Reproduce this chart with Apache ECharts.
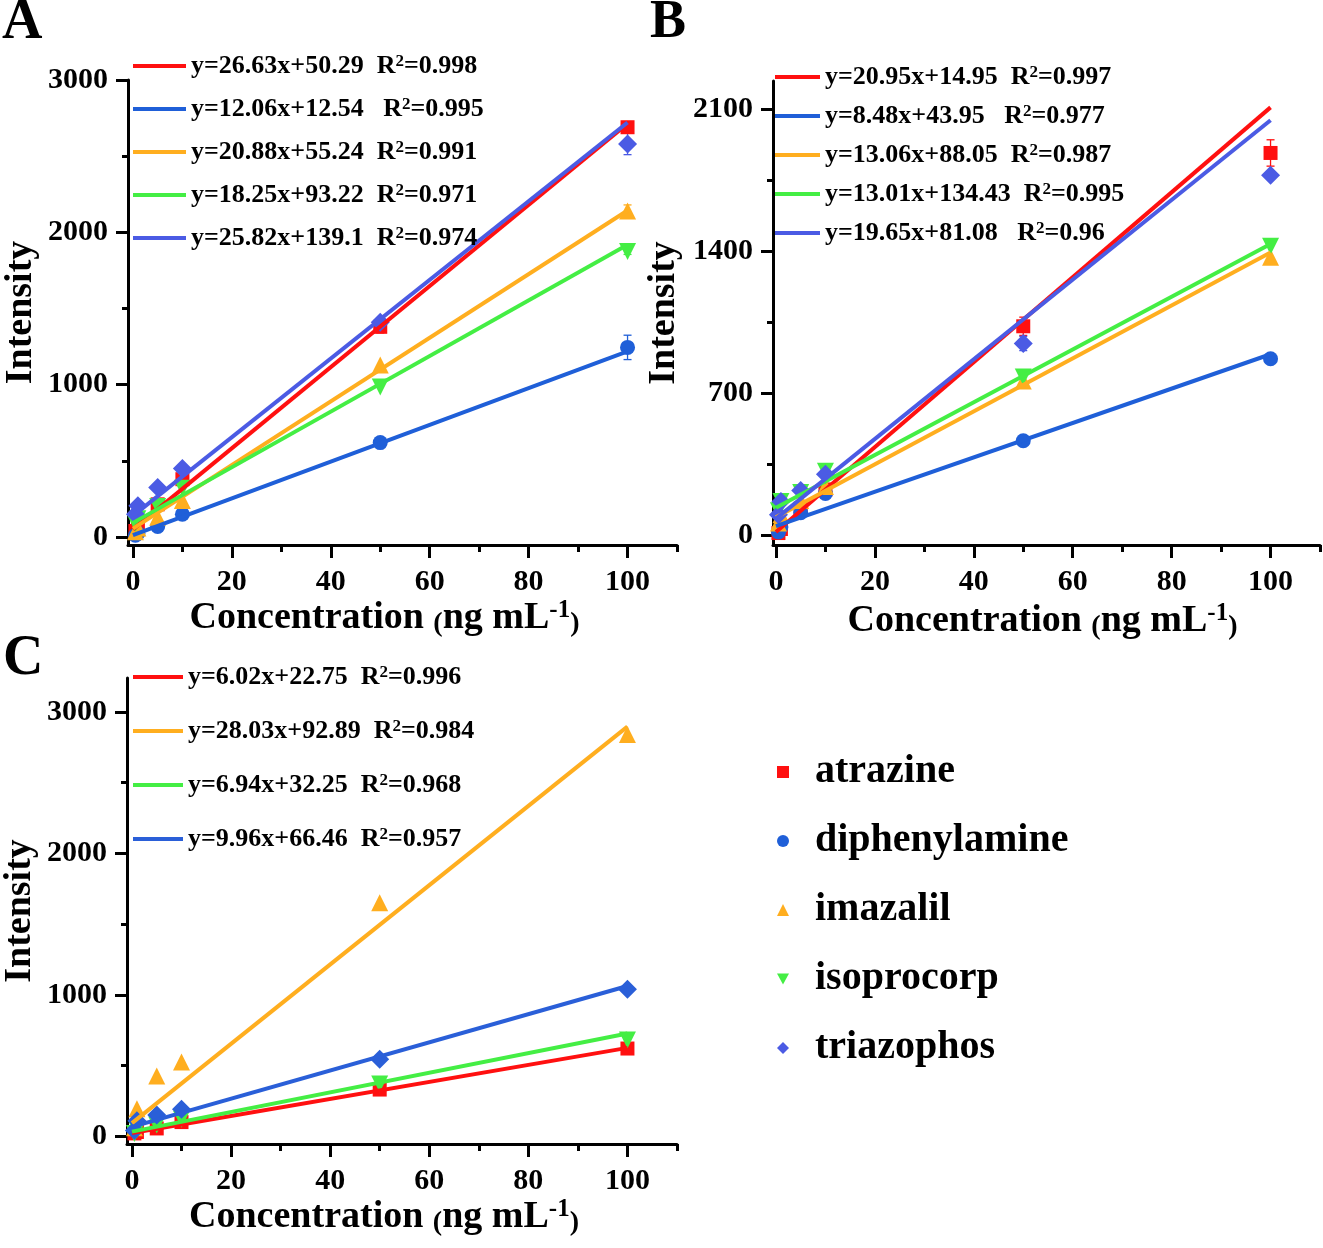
<!DOCTYPE html>
<html>
<head>
<meta charset="utf-8">
<title>Calibration curves</title>
<script src="https://cdn.jsdelivr.net/npm/echarts@6/dist/echarts.min.js"></script>
<style>
  html, body { margin: 0; padding: 0; background: #fff; }
  #chart { width: 1323px; height: 1248px; }
</style>
</head>
<body>
<div id="chart"></div>
<script type="text/javascript">
// concentrations (ng/mL) shared by all panels
var conc = [0.5, 1, 5, 10, 50, 100];

var names = ['atrazine', 'diphenylamine', 'imazalil', 'isoprocorp', 'triazophos'];

// panel A measured intensities
var aAtrazine      = [40, 75, 215, 380, 1380, 2690];
var aDiphenylamine = [12, 25, 70, 150, 620, 1245];
var aImazalil      = [35, 60, 130, 240, 1130, 2140];
var aIsoprocorp    = [90, 120, 200, 320, 985, 1875];
var aTriazophos    = [150, 205, 325, 450, 1410, 2580];
// panel A error bars (0 = none visible)
var aAtrazineErr      = [0, 0, 0, 0, 40, 25];
var aDiphenylamineErr = [0, 0, 0, 30, 0, 80];
var aImazalilErr      = [0, 0, 0, 0, 0, 40];
var aIsoprocorpErr    = [0, 0, 0, 0, 0, 20];
var aTriazophosErr    = [0, 0, 0, 0, 0, 70];
// panel A fits
var aSlope     = [26.63, 12.06, 20.88, 18.25, 25.82];
var aIntercept = [50.29, 12.54, 55.24, 93.22, 139.1];
var aFitText   = ['y=26.63x+50.29  R²=0.998', 'y=12.06x+12.54   R²=0.995', 'y=20.88x+55.24  R²=0.991',
                  'y=18.25x+93.22  R²=0.971', 'y=25.82x+139.1  R²=0.974'];

// panel B measured intensities
var bAtrazine      = [10, 30, 130, 225, 1030, 1885];
var bDiphenylamine = [15, 40, 110, 205, 465, 870];
var bImazalil      = [60, 100, 170, 240, 760, 1370];
var bIsoprocorp    = [120, 165, 210, 315, 780, 1425];
var bTriazophos    = [100, 165, 220, 300, 945, 1775];
var bAtrazineErr   = [0, 0, 0, 0, 45, 65];
var bTriazophosErr = [0, 0, 0, 0, 35, 0];
// panel B fits
var bSlope     = [20.95, 8.48, 13.06, 13.01, 19.65];
var bIntercept = [14.95, 43.95, 88.05, 134.43, 81.08];
var bFitText   = ['y=20.95x+14.95  R²=0.997', 'y=8.48x+43.95   R²=0.977', 'y=13.06x+88.05  R²=0.987',
                  'y=13.01x+134.43  R²=0.995', 'y=19.65x+81.08   R²=0.96'];

// panel C measured intensities (no diphenylamine)
var cAtrazine   = [20, 30, 55, 100, 330, 620];
var cImazalil   = [60, 195, 425, 525, 1650, 2840];
var cIsoprocorp = [20, 45, 80, 120, 370, 680];
var cTriazophos = [40, 110, 150, 190, 545, 1040];
// panel C fits: atrazine, imazalil, isoprocorp, triazophos
var cSlope     = [6.02, 28.03, 6.94, 9.96];
var cIntercept = [22.75, 92.89, 32.25, 66.46];
var cFitText   = ['y=6.02x+22.75  R²=0.996', 'y=28.03x+92.89  R²=0.984',
                  'y=6.94x+32.25  R²=0.968', 'y=9.96x+66.46  R²=0.957'];

var colors = {
  atrazine: '#ff1010',
  diphenylamine: '#1f5fd8',
  imazalil: '#ffae1f',
  isoprocorp: '#44ee44',
  triazophos: '#4b5be4'
};
var cTriColor = '#2a5fd8';
var symbols = {
  atrazine: 'rect',
  diphenylamine: 'circle',
  imazalil: 'triangle',
  isoprocorp: 'path://M0,0 L10,0 L5,9 Z',
  triazophos: 'diamond'
};
var sizes = { atrazine: 14, diphenylamine: 15, imazalil: 17, isoprocorp: 17, triazophos: 19 };

var font = 'Liberation Serif';

(function() {
  var chart = echarts.init(document.getElementById('chart'));

  var grids = [
    { left: 128, top: 80, width: 549, height: 465, outerBoundsMode: 'none' },
    { left: 773, top: 81, width: 547, height: 464, outerBoundsMode: 'none' },
    { left: 127, top: 678, width: 550, height: 466, outerBoundsMode: 'none' }
  ];

  var xName = '{a|Concentration }{p|(}{a|ng mL}{s|-1}{p|)}';
  var nameRich = {
    a: { fontFamily: font, fontWeight: 'bold', fontSize: 38, color: '#000', lineHeight: 40 },
    p: { fontFamily: font, fontWeight: 'bold', fontSize: 28, color: '#000', lineHeight: 40, verticalAlign: 'bottom' },
    s: { fontFamily: font, fontWeight: 'bold', fontSize: 25, color: '#000', lineHeight: 24, verticalAlign: 'top' }
  };

  var lineStyleAxis = { color: '#000', width: 3 };

  function plain(v) {
    return String(v);
  }

  function xAxes(grid, min, nameGap, padRight) {
    return [{
      type: 'value', gridIndex: grid, min: min, max: 110,
      name: xName, nameLocation: 'middle', nameGap: nameGap,
      nameTextStyle: { rich: nameRich, padding: [0, padRight, 0, 0] },
      axisLine: { show: true, onZero: false, lineStyle: lineStyleAxis },
      axisTick: { show: true, length: 13, lineStyle: { width: 3, color: '#000' }, customValues: [0, 20, 40, 60, 80, 100] },
      axisLabel: { show: true, margin: 22, fontFamily: font, fontWeight: 'bold', fontSize: 30, color: '#000',
                   customValues: [0, 20, 40, 60, 80, 100], formatter: plain },
      splitLine: { show: false }
    }, {
      type: 'value', gridIndex: grid, min: min, max: 110, position: 'bottom',
      axisLine: { show: false, onZero: false },
      axisTick: { show: true, length: 7, lineStyle: { width: 3, color: '#000' }, customValues: [10, 30, 50, 70, 90, 110] },
      axisLabel: { show: false },
      splitLine: { show: false }
    }];
  }

  function yAxes(grid, min, max, major, minor, nameGap) {
    return [{
      type: 'value', gridIndex: grid, min: min, max: max, position: 'left',
      name: 'Intensity', nameLocation: 'middle', nameGap: nameGap,
      nameTextStyle: { fontFamily: font, fontWeight: 'bold', fontSize: 38, color: '#000' },
      axisLine: { show: true, onZero: false, lineStyle: lineStyleAxis },
      axisTick: { show: true, length: 12, lineStyle: { width: 3, color: '#000' }, customValues: major },
      axisLabel: { show: true, margin: 20, fontFamily: font, fontWeight: 'bold', fontSize: 30, color: '#000',
                   customValues: major, formatter: plain },
      splitLine: { show: false }
    }, {
      type: 'value', gridIndex: grid, min: min, max: max, position: 'left', offset: 0,
      axisLine: { show: false, onZero: false },
      axisTick: { show: true, length: 6, lineStyle: { width: 3, color: '#000' }, customValues: minor },
      axisLabel: { show: false },
      splitLine: { show: false }
    }];
  }

  var xAxis = [].concat(xAxes(0, -1, 50, 36), xAxes(1, -0.6, 56, 8), xAxes(2, -1, 50, 36));
  var yAxis = [].concat(
    yAxes(0, -52, 3000, [0, 1000, 2000, 3000], [500, 1500, 2500], 88),
    yAxes(1, -49, 2240, [0, 700, 1400, 2100], [350, 1050, 1750], 90),
    yAxes(2, -55, 3240, [0, 1000, 2000, 3000], [500, 1500, 2500], 88)
  );

  var series = [];

  function pairs(values) {
    var out = [];
    for (var i = 0; i < conc.length; i++) {
      out.push([conc[i], values[i]]);
    }
    return out;
  }

  function addScatter(axis, name, values, color) {
    series.push({
      name: name, type: 'scatter', xAxisIndex: axis, yAxisIndex: axis,
      symbol: symbols[name], symbolSize: sizes[name],
      itemStyle: { color: color || colors[name], opacity: 1 },
      z: 2, data: pairs(values)
    });
  }

  function renderErr(params, api) {
    var x = api.value(0), y = api.value(1), e = api.value(2);
    var top = api.coord([x, y + e]);
    var bot = api.coord([x, y - e]);
    var style = { stroke: api.visual('color'), lineWidth: 1.3 };
    return {
      type: 'group',
      children: [
        { type: 'line', shape: { x1: top[0], y1: top[1], x2: bot[0], y2: bot[1] }, style: style },
        { type: 'line', shape: { x1: top[0] - 4, y1: top[1], x2: top[0] + 4, y2: top[1] }, style: style },
        { type: 'line', shape: { x1: bot[0] - 4, y1: bot[1], x2: bot[0] + 4, y2: bot[1] }, style: style }
      ]
    };
  }

  function addErr(axis, name, values, errs) {
    var data = [];
    for (var i = 0; i < conc.length; i++) {
      if (errs[i] > 0) data.push([conc[i], values[i], errs[i]]);
    }
    series.push({
      type: 'custom', xAxisIndex: axis, yAxisIndex: axis,
      itemStyle: { color: colors[name] }, renderItem: renderErr,
      silent: true, z: 2, data: data
    });
  }

  function addFit(axis, text, slope, intercept, color) {
    series.push({
      name: text, type: 'line', xAxisIndex: axis, yAxisIndex: axis,
      symbol: 'none', showSymbol: false,
      lineStyle: { color: color, width: 4 }, itemStyle: { color: color },
      z: 3, silent: true,
      data: [[0, intercept], [100, slope * 100 + intercept]]
    });
  }

  // panel A
  addScatter(0, 'atrazine', aAtrazine);
  addScatter(0, 'diphenylamine', aDiphenylamine);
  addScatter(0, 'imazalil', aImazalil);
  addScatter(0, 'isoprocorp', aIsoprocorp);
  addScatter(0, 'triazophos', aTriazophos);
  addErr(0, 'atrazine', aAtrazine, aAtrazineErr);
  addErr(0, 'diphenylamine', aDiphenylamine, aDiphenylamineErr);
  addErr(0, 'imazalil', aImazalil, aImazalilErr);
  addErr(0, 'isoprocorp', aIsoprocorp, aIsoprocorpErr);
  addErr(0, 'triazophos', aTriazophos, aTriazophosErr);
  for (var i = 0; i < 5; i++) {
    addFit(0, aFitText[i], aSlope[i], aIntercept[i], colors[names[i]]);
  }

  // panel B
  addScatter(2, 'atrazine', bAtrazine);
  addScatter(2, 'diphenylamine', bDiphenylamine);
  addScatter(2, 'imazalil', bImazalil);
  addScatter(2, 'isoprocorp', bIsoprocorp);
  addScatter(2, 'triazophos', bTriazophos);
  addErr(2, 'atrazine', bAtrazine, bAtrazineErr);
  addErr(2, 'triazophos', bTriazophos, bTriazophosErr);
  for (var j = 0; j < 5; j++) {
    addFit(2, bFitText[j], bSlope[j], bIntercept[j], colors[names[j]]);
  }

  // panel C
  var cColors = [colors.atrazine, colors.imazalil, colors.isoprocorp, cTriColor];
  addScatter(4, 'atrazine', cAtrazine);
  addScatter(4, 'imazalil', cImazalil);
  addScatter(4, 'isoprocorp', cIsoprocorp);
  addScatter(4, 'triazophos', cTriazophos, cTriColor);
  for (var k = 0; k < 4; k++) {
    addFit(4, cFitText[k], cSlope[k], cIntercept[k], cColors[k]);
  }

  // equation legend text with a raised "2" after R
  var eqText = {
    fontFamily: font, fontWeight: 'bold', fontSize: 26, color: '#000', lineHeight: 26,
    rich: {
      t: { fontFamily: font, fontWeight: 'bold', fontSize: 26, color: '#000', lineHeight: 26 },
      s: { fontFamily: font, fontWeight: 'bold', fontSize: 17, color: '#000', lineHeight: 17, verticalAlign: 'top' }
    }
  };
  function eqFormat(name) {
    return '{t|' + name.replace('R²', 'R}{s|2}{t|') + '}';
  }

  var option = {
    backgroundColor: '#fff',
    animation: false,
    title: [
      { text: 'A', left: 2, top: -4, padding: 0, textStyle: { fontFamily: font, fontWeight: 'bold', fontSize: 56, color: '#000' } },
      { text: 'B', left: 650, top: -4, padding: 0, textStyle: { fontFamily: font, fontWeight: 'bold', fontSize: 54, color: '#000' } },
      { text: 'C', left: 3, top: 632, padding: 0, textStyle: { fontFamily: font, fontWeight: 'bold', fontSize: 56, color: '#000' } }
    ],
    grid: grids,
    xAxis: xAxis,
    yAxis: yAxis,
    legend: [
      { data: aFitText, orient: 'vertical', left: 133, top: 53, padding: 0, itemGap: 17, formatter: eqFormat,
        icon: 'rect', itemWidth: 53, itemHeight: 4, textStyle: eqText, selectedMode: false },
      { data: bFitText, orient: 'vertical', left: 775, top: 64, padding: 0, itemGap: 13, formatter: eqFormat,
        icon: 'rect', itemWidth: 45, itemHeight: 4, textStyle: eqText, selectedMode: false },
      { data: cFitText, orient: 'vertical', left: 133, top: 664, padding: 0, itemGap: 28, formatter: eqFormat,
        icon: 'rect', itemWidth: 50, itemHeight: 4, textStyle: eqText, selectedMode: false },
      { data: names, orient: 'vertical', left: 777, top: 752, padding: 0, itemGap: 29,
        itemWidth: 12, itemHeight: 12, selectedMode: false,
        textStyle: { fontFamily: font, fontWeight: 'bold', fontSize: 40, color: '#000', lineHeight: 40, padding: [0, 0, 0, 21] } }
    ],
    series: series
  };

  chart.setOption(option);
})();
</script>
</body>
</html>
